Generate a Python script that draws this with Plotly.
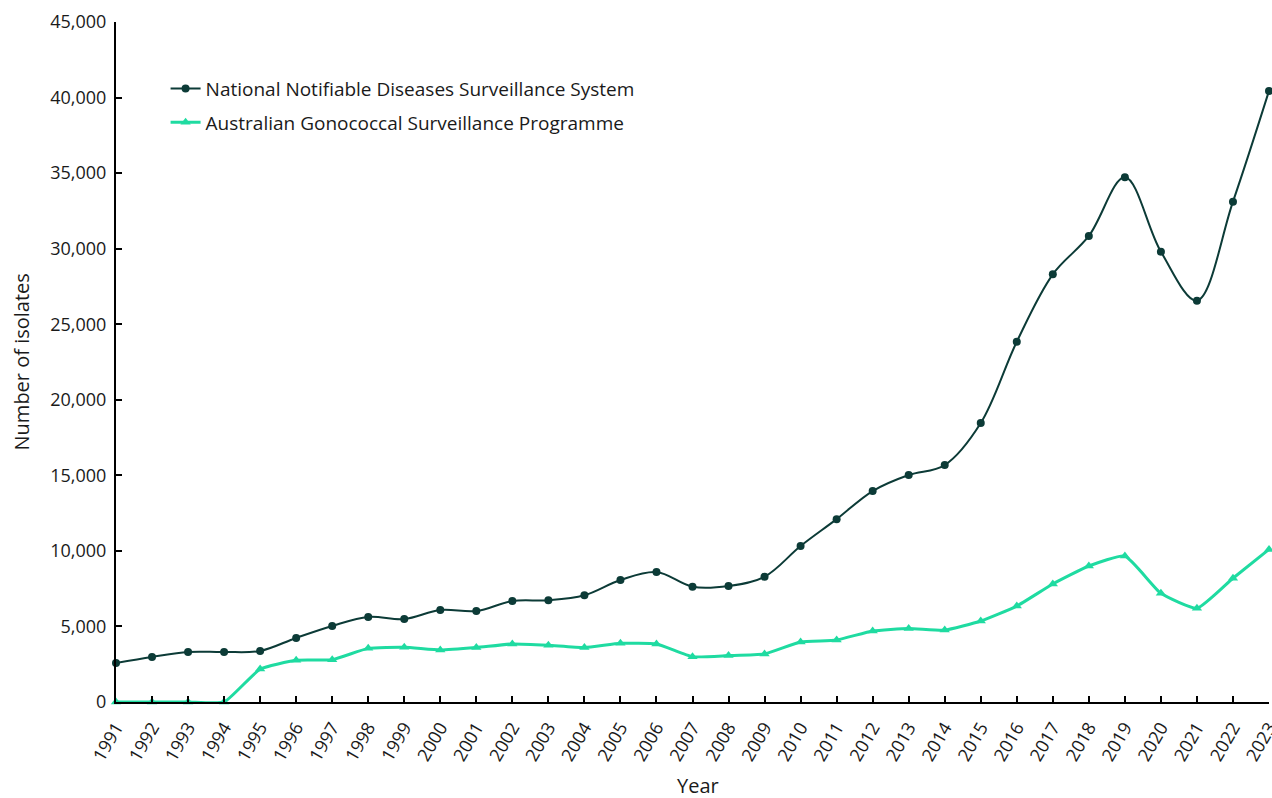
import plotly.graph_objects as go

years = list(range(1991, 2024))
nndss = [2580, 2980, 3310, 3310, 3380, 4240, 5030, 5630, 5490, 6090, 6020, 6680, 6730,
         7060, 8070, 8600, 7630, 7680, 8290, 10320, 12100, 13960, 15020, 15680, 18460,
         23840, 28300, 30840, 34720, 29800, 26560, 33110, 40440]
agsp = [0, 0, 0, 0, 2180, 2760, 2800, 3550, 3620, 3440, 3600, 3840, 3750,
        3600, 3880, 3840, 3000, 3070, 3180, 3970, 4100, 4700, 4870, 4760, 5360,
        6350, 7810, 9000, 9660, 7190, 6200, 8190, 10100]
series_names = ["National Notifiable Diseases Surveillance System",
                "Australian Gonococcal Surveillance Programme"]
y_ticks = list(range(0, 45001, 5000))

dark = "#0c3b37"
green = "#1fdba1"
font_family = "Open Sans, Lato, sans-serif"

fig = go.Figure()
fig.add_trace(go.Scatter(
    x=years, y=nndss, name=series_names[0], mode="lines+markers", legendgroup="a",
    line=dict(color=dark, width=2, shape="spline", smoothing=1.0),
    marker=dict(symbol="circle", size=8, color=dark), cliponaxis=False))
fig.add_trace(go.Scatter(
    x=years, y=agsp, name=series_names[1], mode="lines+markers", legendgroup="b",
    line=dict(color=green, width=3, shape="spline", smoothing=0.45),
    marker=dict(symbol="triangle-up", size=9, color=green), cliponaxis=False))

fig.update_layout(
    width=1272, height=798,
    margin=dict(l=116, r=3, t=22, b=96),
    paper_bgcolor="white", plot_bgcolor="white",
    font=dict(family=font_family, size=18, color="#1a1a1a"),
    showlegend=True,
    legend=dict(x=0.043, y=0.93, xanchor="left", yanchor="top",
                bgcolor="rgba(0,0,0,0)", font=dict(size=19),
                tracegroupgap=6, itemwidth=30),
    xaxis=dict(
        range=[1991, 2023], tickmode="array", tickvals=years,
        ticktext=[str(y) for y in years], tickangle=-60,
        ticklabeloverflow="allow", ticklabelstandoff=6,
        showline=True, linecolor="black", linewidth=2,
        ticks="inside", ticklen=6, tickcolor="black", tickwidth=2,
        showgrid=False, zeroline=False, automargin=False,
        tickfont=dict(size=18)),
    yaxis=dict(
        range=[0, 45000], tickmode="array", tickvals=y_ticks,
        ticktext=[f"{v:,}" for v in y_ticks], ticklabelstandoff=4,
        showline=True, linecolor="black", linewidth=2,
        ticks="inside", ticklen=6, tickcolor="black", tickwidth=2,
        showgrid=False, zeroline=False, automargin=False,
        tickfont=dict(size=18)),
    annotations=[
        dict(text="Year", x=0.505, y=-0.1, xref="paper", yref="paper",
             xanchor="center", yanchor="top", showarrow=False, font=dict(size=20)),
        dict(text="Number of isolates", x=-0.082, y=0.5, xref="paper", yref="paper",
             xanchor="center", yanchor="middle", showarrow=False, textangle=-90,
             font=dict(size=20)),
    ],
)

fig.write_html("out.html", config={"displayModeBar": False},
               post_script="document.body.style.margin='0';document.body.style.overflow='hidden';")
